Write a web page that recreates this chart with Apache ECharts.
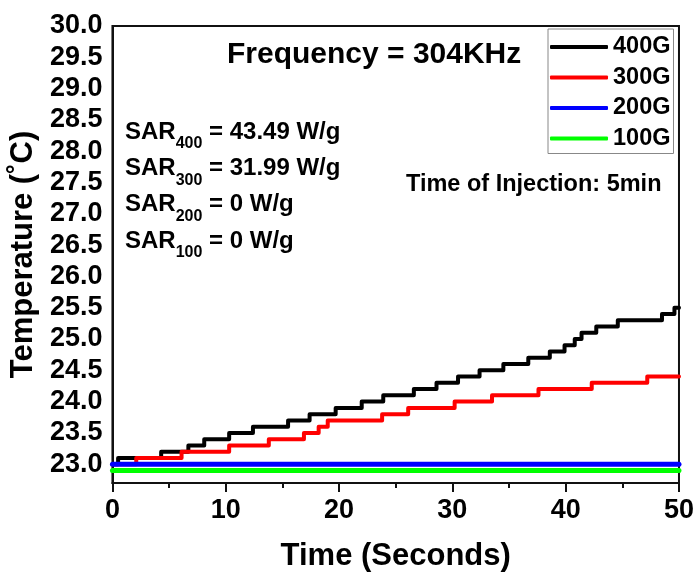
<!DOCTYPE html>
<html>
<head>
<meta charset="utf-8">
<script src="https://cdn.jsdelivr.net/npm/echarts@6/dist/echarts.min.js"></script>
<style>html,body{margin:0;padding:0;background:#fff}#c{width:697px;height:577px}</style>
</head>
<body>
<div id="c"></div>
<script>
// ---- data ----
const seriesNames = ['400G', '300G', '200G', '100G'];
const time400 = [0, 0.5, 4.3, 6.7, 8.1, 10.3, 12.4, 15.5, 17.4, 19.7, 22.0, 23.9, 26.6, 28.6, 30.5, 32.4, 34.5, 36.7, 38.6, 39.9, 40.8, 41.4, 42.7, 44.6, 48.5, 49.6, 50];
const temp400 = [23.0, 23.1, 23.2, 23.3, 23.4, 23.5, 23.6, 23.7, 23.8, 23.9, 24.0, 24.1, 24.2, 24.3, 24.4, 24.5, 24.6, 24.7, 24.8, 24.9, 25.0, 25.1, 25.2, 25.3, 25.4, 25.5, 25.5];
const time300 = [0, 2.1, 6.1, 10.3, 13.8, 16.9, 18.2, 19.0, 23.8, 26.1, 30.2, 33.5, 37.6, 42.3, 47.2, 50];
const temp300 = [23.0, 23.1, 23.2, 23.3, 23.4, 23.5, 23.6, 23.7, 23.8, 23.9, 24.0, 24.1, 24.2, 24.3, 24.4, 24.4];
const time200 = [0, 50];
const temp200 = [23.0, 23.0];
const time100 = [0, 50];
const temp100 = [22.9, 22.9];
const yTickLabels = ['23.0','23.5','24.0','24.5','25.0','25.5','26.0','26.5','27.0','27.5','28.0','28.5','29.0','29.5','30.0'];
const sarLabels = [['400', '43.49'], ['300', '31.99'], ['200', '0'], ['100', '0']];

const pairs = (t, v) => t.map((x, i) => [x, v[i]]);
const FONT = '"Liberation Sans", Arial, sans-serif';

const chart = echarts.init(document.getElementById('c'));
const colors = ['#000000', '#ff0000', '#0000ff', '#00ff00'];
const widths = [4, 4, 5, 5];
const datas = [pairs(time400, temp400), pairs(time300, temp300), pairs(time200, temp200), pairs(time100, temp100)];

chart.setOption({
  animation: false,
  textStyle: { fontFamily: FONT },
  grid: { left: 111, right: 17, top: 26, bottom: 94, show: true, borderColor: '#111', borderWidth: 2, backgroundColor: 'transparent' },
  legend: {
    orient: 'vertical', left: 548, top: 29,
    padding: [6, 3, 3, 2], itemGap: 6.5,
    itemWidth: 58, itemHeight: 4,
    borderColor: '#888', borderWidth: 1,
    icon: 'roundRect',
    data: seriesNames,
    textStyle: { fontSize: 23.5, fontWeight: 'bold', color: '#000', fontFamily: FONT, lineHeight: 23.5 }
  },
  xAxis: {
    type: 'value', min: 0, max: 50, interval: 10,
    name: 'Time (Seconds)', nameLocation: 'middle', nameGap: 58,
    nameTextStyle: { fontSize: 31, fontWeight: 'bold', color: '#000', fontFamily: FONT },
    axisLine: { show: true, lineStyle: { color: '#111', width: 2 } },
    axisTick: { show: true, length: 9, inside: false, lineStyle: { color: '#111', width: 2 } },
    minorTick: { show: true, splitNumber: 2, length: 5, lineStyle: { color: '#111', width: 2 } },
    splitLine: { show: false },
    axisLabel: { fontSize: 27, fontWeight: 'bold', color: '#000', margin: 14, fontFamily: FONT }
  },
  yAxis: {
    type: 'value', min: 22.7, max: 30,
    name: 'Temperature (˚C)', nameLocation: 'middle', nameGap: 65, nameRotate: 90,
    nameTextStyle: { fontSize: 31, fontWeight: 'bold', color: '#000', fontFamily: FONT },
    axisLine: { show: true, lineStyle: { color: '#111', width: 2 } },
    axisTick: { show: false },
    splitLine: { show: false },
    axisLabel: {
      customValues: yTickLabels.map(Number),
      formatter: v => Number(v).toFixed(1),
      fontSize: 27, fontWeight: 'bold', color: '#000', margin: 10, fontFamily: FONT
    }
  },
  series: seriesNames.map((n, i) => ({
    name: n, type: 'line', step: i < 2 ? 'end' : false,
    data: datas[i], showSymbol: false, symbol: 'none',
    lineStyle: { color: colors[i], width: widths[i], join: 'round', cap: 'round' },
    itemStyle: { color: colors[i] }
  })),
  graphic: [
    { type: 'text', left: 227, top: 40, style: { text: 'Frequency = 304KHz', font: 'bold 30px ' + FONT, fill: '#000' } },
    { type: 'text', left: 406, top: 173, style: { text: 'Time of Injection: 5min', font: 'bold 23.5px ' + FONT, fill: '#000' } }
  ].concat(sarLabels.map((s, i) => ({
    type: 'text', left: 125, top: 120 + i * 36.3,
    style: {
      text: '{a|SAR}{b|' + s[0] + '}{a| = ' + s[1] + ' W/g}',
      rich: {
        a: { fontSize: 24, fontWeight: 'bold', fontFamily: FONT, fill: '#000', lineHeight: 26, verticalAlign: 'top' },
        b: { fontSize: 16, fontWeight: 'bold', fontFamily: FONT, fill: '#000', lineHeight: 16, padding: [16, 0, 0, 0], verticalAlign: 'top' }
      }
    }
  })))
});
</script>
</body>
</html>
